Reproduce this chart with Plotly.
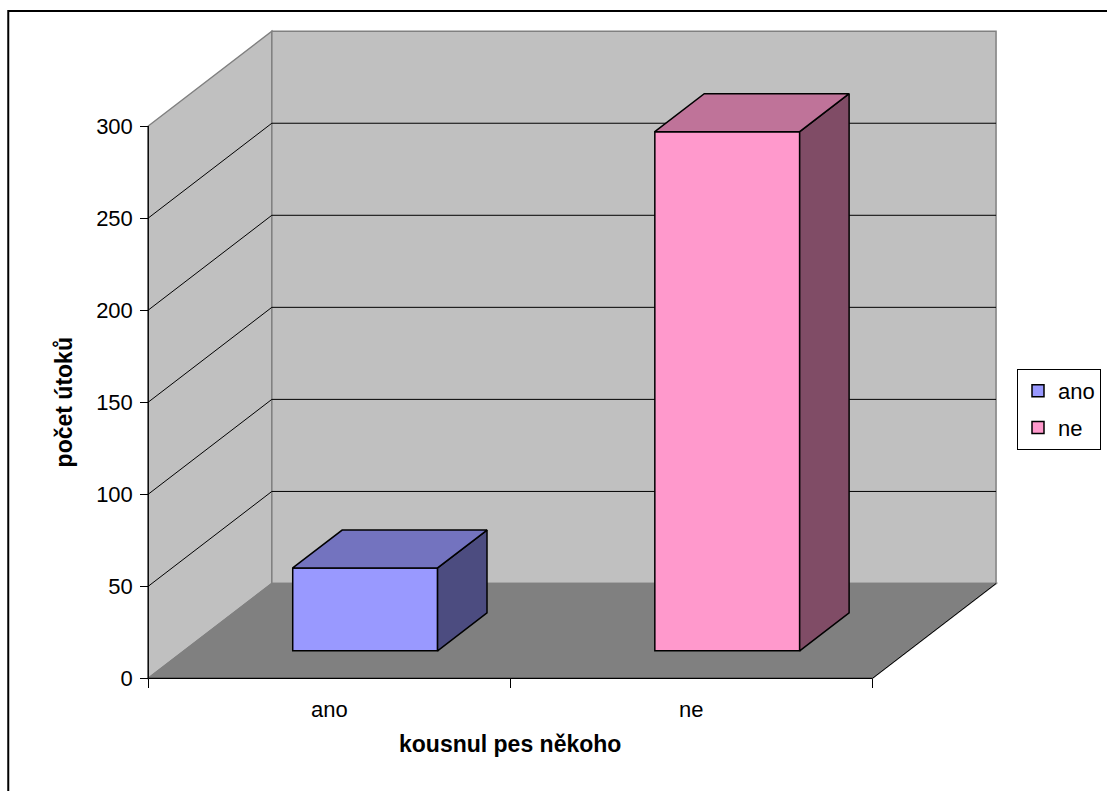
import plotly.graph_objects as go

# ---------------- data ----------------
categories = ["ano", "ne"]
values = [45, 282]
front_colors = ["#9999FF", "#FF99CC"]
top_colors = ["#7373BF", "#BF7399"]
side_colors = ["#4C4C80", "#804C66"]
y_ticks = [0, 50, 100, 150, 200, 250, 300]
x_title = "kousnul pes někoho"
y_title = "počet útoků"

# ---------------- geometry (oblique 3D projection in data units) ----------------
DX = 0.3413      # depth shift in category units
DY = 51.5        # depth shift in value units
BAR_HALF = 0.2   # half bar width (category units)
F0, F1 = 0.29, 0.69  # bar depth span (fraction of full depth)
YMAX = 300
NCAT = len(categories)

W, H = 1107, 791
X0PX, Y0PX = 148.3, 678.3
PX_PER_CAT = 364.2
PX_PER_UNIT = 1.841
ML, MT = 140, 24
PLOT_R, PLOT_B = 1010, 686
MR, MB = W - PLOT_R, H - PLOT_B
xr = [(ML - X0PX) / PX_PER_CAT, (PLOT_R - X0PX) / PX_PER_CAT]
yr = [(Y0PX - PLOT_B) / PX_PER_UNIT, (Y0PX - MT) / PX_PER_UNIT]
PW, PH = W - ML - MR, H - MT - MB


def paper_x(px):
    return (px - ML) / PW


def paper_y(py):
    return (H - MB - py) / PH


FONT = "Liberation Sans, Arial, sans-serif"
fig = go.Figure()
shapes = []


def path_of(xs, ys):
    return "M" + " L".join("%.5f,%.5f" % (a, b) for a, b in zip(xs, ys)) + " Z"


def wall(xs, ys, fill, line_color, lw=1.5):
    shapes.append(dict(type="path", xref="x", yref="y", path=path_of(xs, ys), fillcolor=fill,
                       line=dict(color=line_color, width=lw), layer="below"))


def seg(x0, y0, x1, y1, color, lw=1):
    shapes.append(dict(type="line", xref="x", yref="y", x0=x0, y0=y0, x1=x1, y1=y1,
                       line=dict(color=color, width=lw), layer="below"))


def poly(xs, ys, fill, line_color, lw=1.5):
    fig.add_trace(go.Scatter(x=xs + [xs[0]], y=ys + [ys[0]], mode="lines", fill="toself",
                             fillcolor=fill, line=dict(color=line_color, width=lw),
                             showlegend=False, hoverinfo="skip"))


# walls and floor
wall([0, 0, DX, DX], [0, YMAX, YMAX + DY, DY], "#C0C0C0", "#808080")
wall([DX, NCAT + DX, NCAT + DX, DX], [DY, DY, YMAX + DY, YMAX + DY], "#C0C0C0", "#808080")
wall([0, NCAT, NCAT + DX, DX], [0, 0, DY, DY], "#808080", "#808080")

# gridlines on back wall and left wall
for v in y_ticks[1:-1]:
    seg(DX, v + DY, NCAT + DX, v + DY, "#000000", 1)
    seg(0, v, DX, v + DY, "#000000", 1)

# axis lines and floor right edge
seg(0, 0, 0, YMAX, "#000000", 1.3)
seg(0, 0, NCAT, 0, "#000000", 1.3)
seg(NCAT, 0, NCAT + DX, DY, "#000000", 1)

# bars
for i, (cat, v) in enumerate(zip(categories, values)):
    c = i + 0.5
    xl, xrr = c - BAR_HALF, c + BAR_HALF
    # front face
    fig.add_trace(go.Bar(x=[c + F0 * DX], y=[v], base=[F0 * DY], width=[2 * BAR_HALF],
                         name=cat, legendgroup=cat,
                         marker=dict(color=front_colors[i], line=dict(color="#000000", width=1.5)),
                         hoverinfo="skip"))
    # side face
    poly([xrr + F0 * DX, xrr + F1 * DX, xrr + F1 * DX, xrr + F0 * DX],
         [v + F0 * DY, v + F1 * DY, F1 * DY, F0 * DY], side_colors[i], "#000000")
    # top face
    poly([xl + F0 * DX, xrr + F0 * DX, xrr + F1 * DX, xl + F1 * DX],
         [v + F0 * DY, v + F0 * DY, v + F1 * DY, v + F1 * DY], top_colors[i], "#000000")

TICK_SIZE = 22
TITLE_SIZE = 23
annotations = []
for i, cat in enumerate(categories):
    annotations.append(dict(x=i + 0.5, y=0, xref="x", yref="y", text=cat, showarrow=False,
                            yanchor="middle", yshift=-31,
                            font=dict(size=TICK_SIZE, color="#000000", family=FONT)))
annotations.append(dict(x=NCAT / 2, y=0, xref="x", yref="y", text="<b>%s</b>" % x_title, showarrow=False,
                        yanchor="middle", yshift=-66,
                        font=dict(size=TITLE_SIZE, color="#000000", family=FONT)))
annotations.append(dict(x=0, y=YMAX / 2, xref="x", yref="y", text="<b>%s</b>" % y_title, showarrow=False,
                        textangle=-90, xanchor="center", xshift=-84,
                        font=dict(size=TITLE_SIZE, color="#000000", family=FONT)))

shapes.append(dict(type="rect", xref="paper", yref="paper",
                   x0=paper_x(7.5), x1=paper_x(W + 20), y0=paper_y(H + 20), y1=paper_y(11),
                   line=dict(color="#000000", width=2), layer="above"))

fig.update_layout(
    width=W, height=H, autosize=False,
    margin=dict(l=ML, r=MR, t=MT, b=MB, pad=0),
    paper_bgcolor="#FFFFFF", plot_bgcolor="rgba(0,0,0,0)",
    hovermode=False, barmode="overlay",
    font=dict(family=FONT, size=TICK_SIZE, color="#000000"),
    xaxis=dict(range=xr, showgrid=False, zeroline=False, showline=False,
               anchor="free", position=paper_y(Y0PX),
               tickmode="array", tickvals=list(range(NCAT + 1)), ticktext=[""] * (NCAT + 1),
               ticks="outside", ticklen=9, tickcolor="#000000", tickwidth=1),
    yaxis=dict(range=yr, showgrid=False, zeroline=False, showline=False,
               anchor="free", position=paper_x(X0PX),
               tickmode="array", tickvals=y_ticks, ticktext=[str(t) for t in y_ticks],
               ticks="outside", ticklen=8, tickcolor="#000000", tickwidth=1,
               ticklabelstandoff=3,
               tickfont=dict(size=TICK_SIZE, family=FONT, color="#000000")),
    legend=dict(xref="container", yref="container", x=1017 / W, y=1 - 369 / H,
                xanchor="left", yanchor="top", bgcolor="#FFFFFF",
                bordercolor="#000000", borderwidth=1, tracegroupgap=5,
                font=dict(size=TICK_SIZE, family=FONT, color="#000000")),
    annotations=annotations,
    shapes=shapes,
)

fig.write_html("out.html", config={"displayModeBar": False},
               post_script="document.body.style.margin='0px';document.body.style.overflow='hidden';")
